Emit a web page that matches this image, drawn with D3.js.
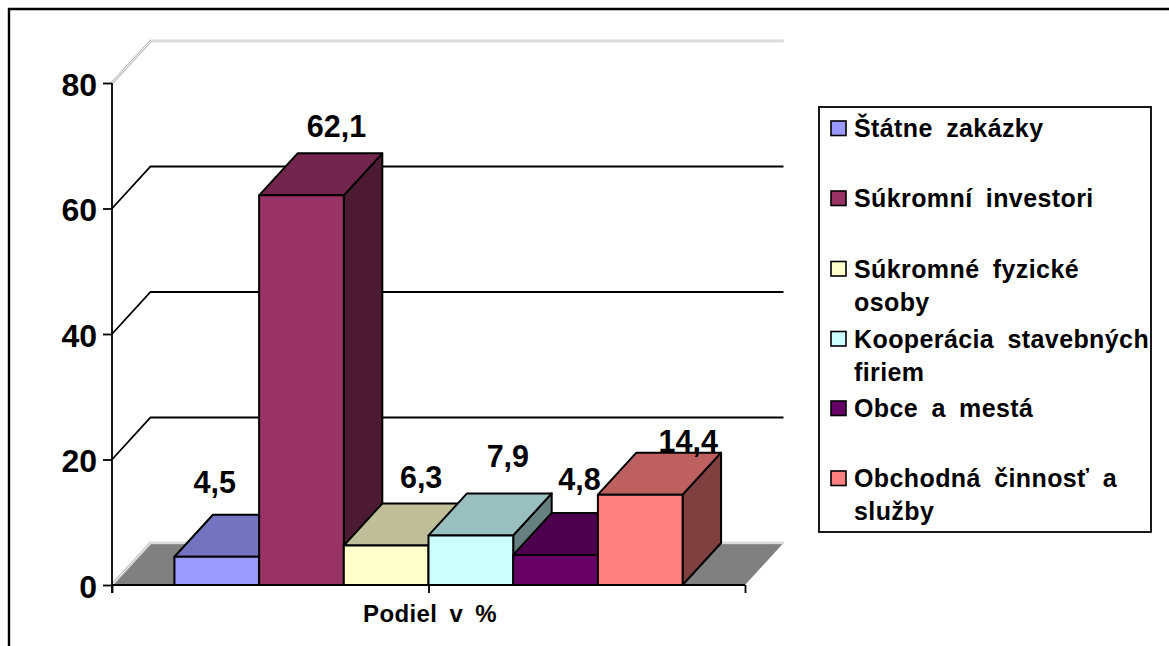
<!DOCTYPE html>
<html lang="sk">
<head>
<meta charset="utf-8">
<script src="https://cdn.jsdelivr.net/npm/d3@7"></script>
<style>
  html, body { margin: 0; padding: 0; background: #fff; }
  svg { display: block; }
  text { font-family: "Liberation Sans", Arial, sans-serif; font-weight: 700; fill: #000; }
</style>
</head>
<body>
<svg id="chart" width="1169" height="646"></svg>
<script>
// Podiel zákazníkov v percentách
const categories = ["Štátne zakázky", "Súkromní investori", "Súkromné fyzické osoby",
                    "Kooperácia stavebných firiem", "Obce a mestá", "Obchodná činnosť a služby"];
const values = [4.5, 62.1, 6.3, 7.9, 4.8, 14.4];
const valueLabels = ["4,5", "62,1", "6,3", "7,9", "4,8", "14,4"];
const frontColors = ["#9999ff", "#993366", "#ffffcc", "#ccffff", "#660066", "#ff8080"];
const topColors = ["#7373bf", "#73264d", "#bfbf99", "#99bfbf", "#4d004d", "#bf6060"];
const sideColors = ["#4d4d80", "#4d1a33", "#808066", "#668080", "#330033", "#804040"];
const yTicks = [0, 20, 40, 60, 80];
const axisTitle = "Podiel v %";
const legendLines = [
  ["Štátne zakázky"],
  ["Súkromní investori"],
  ["Súkromné fyzické", "osoby"],
  ["Kooperácia stavebných", "firiem"],
  ["Obce a mestá"],
  ["Obchodná činnosť a", "služby"]
];

const plot = { left: 112, right: 745, top: 83, bottom: 585, depthX: 38.5, depthY: 42 };
const svg = d3.select("#chart");

const y = d3.scaleLinear().domain([0, 80]).range([plot.bottom, plot.top]);
const x = d3.scaleBand().domain(categories)
  .range([plot.left, plot.right]).paddingInner(0).paddingOuter(0.737);

const poly = pts => pts.map(p => p.join(",")).join(" ");

// Chart area frame: only the top and left edges fall inside the page
svg.append("path").attr("d", "M1169,9H9V646")
  .attr("fill", "none").attr("stroke", "#000").attr("stroke-width", 2.4);

// Floor of the 3D box
const wallLine = base => poly([
  [plot.left, base],
  [plot.left + plot.depthX, base - plot.depthY],
  [plot.right + plot.depthX, base - plot.depthY]]);

svg.append("polygon")
  .attr("points", poly([
    [plot.left, plot.bottom], [plot.right, plot.bottom],
    [plot.right + plot.depthX, plot.bottom - plot.depthY],
    [plot.left + plot.depthX, plot.bottom - plot.depthY]]))
  .attr("fill", "#808080");

// Edges that are drawn as a thin double line: the floor and the 80 gridline
[plot.bottom, y(80)].forEach(base => {
  svg.append("polyline").attr("points", wallLine(base))
    .attr("fill", "none").attr("stroke", "#b8b8b8").attr("stroke-width", 2.6);
  svg.append("polyline").attr("points", wallLine(base))
    .attr("fill", "none").attr("stroke", "#fff").attr("stroke-width", 1);
});

// Gridlines run along the left wall and then the back wall
svg.append("g").selectAll("polyline").data(yTicks.slice(1, 4)).join("polyline")
  .attr("points", d => wallLine(y(d)))
  .attr("fill", "none").attr("stroke", "#000").attr("stroke-width", 1.8);

// Bars, painted left to right so that each one overlaps its left neighbour
const bars = svg.append("g").attr("stroke", "#000").attr("stroke-width", 2)
  .attr("stroke-linejoin", "round")
  .selectAll("g").data(d3.range(values.length)).join("g");
const bw = x.bandwidth();
bars.append("polygon").attr("fill", i => sideColors[i])
  .attr("points", i => {
    const r = x(categories[i]) + bw, t = y(values[i]);
    return poly([[r, plot.bottom], [r, t], [r + plot.depthX, t - plot.depthY],
                 [r + plot.depthX, plot.bottom - plot.depthY]]);
  });
bars.append("polygon").attr("fill", i => topColors[i])
  .attr("points", i => {
    const l = x(categories[i]), t = y(values[i]);
    return poly([[l, t], [l + bw, t], [l + bw + plot.depthX, t - plot.depthY],
                 [l + plot.depthX, t - plot.depthY]]);
  });
bars.append("rect").attr("fill", i => frontColors[i])
  .attr("x", i => x(categories[i])).attr("width", bw)
  .attr("y", i => y(values[i])).attr("height", i => plot.bottom - y(values[i]));

// Value axis
const yAxis = svg.append("g").attr("transform", `translate(${plot.left},0)`)
  .call(d3.axisLeft(y).tickValues(yTicks).tickSize(9).tickPadding(6).tickFormat(d3.format("d")));
yAxis.selectAll("path, line").attr("stroke", "#000").attr("stroke-width", 1.8);
yAxis.select(".domain").attr("d", `M0,${plot.top}V${plot.bottom + 8}`);
yAxis.selectAll("text").attr("font-size", 32).style("font-family", '"Liberation Sans", Arial, sans-serif')
  .style("font-weight", 700).attr("dy", "0.38em");

// Category axis with its three tick marks
const xAxisScale = d3.scaleLinear().domain([0, 2]).range([plot.left, plot.right]);
const xAxis = svg.append("g").attr("transform", `translate(0,${plot.bottom})`)
  .call(d3.axisBottom(xAxisScale).tickValues([0, 1, 2]).tickSize(8).tickFormat(""));
xAxis.selectAll("path, line").attr("stroke", "#000").attr("stroke-width", 1.8);
xAxis.select(".domain").attr("d", `M${plot.left},0H${plot.right}`);

svg.append("text").attr("x", 430).attr("y", 622).attr("text-anchor", "middle")
  .attr("font-size", 24).attr("letter-spacing", 0.4).attr("word-spacing", 5).text(axisTitle);

// Value labels sit above each bar, hand-placed so that they clear the neighbours
const labelShift = [[-2, -22], [35, -16], [35, -15], [37, -26], [24, -23], [48, -1]];
svg.append("g").selectAll("text").data(values).join("text")
  .attr("x", (d, i) => x(categories[i]) + bw / 2 + labelShift[i][0])
  .attr("y", (d, i) => y(d) - plot.depthY + labelShift[i][1])
  .attr("text-anchor", "middle").attr("font-size", 30.5)
  .text((d, i) => valueLabels[i]);

// Legend
const legend = svg.append("g");
legend.append("rect").attr("x", 819).attr("y", 107).attr("width", 332).attr("height", 425)
  .attr("fill", "#fff").attr("stroke", "#000").attr("stroke-width", 1.8);
const rowCentres = [128.5, 198.5, 269, 339, 408.5, 478.5];
const rows = legend.selectAll("g").data(legendLines).join("g")
  .attr("transform", (d, i) => `translate(0,${rowCentres[i]})`);
rows.append("rect").attr("x", 831).attr("y", -7.5).attr("width", 15).attr("height", 14.5)
  .attr("fill", (d, i) => frontColors[i]).attr("stroke", "#000").attr("stroke-width", 1.6);
rows.selectAll("text").data(d => d).join("text")
  .attr("x", 854).attr("y", (d, i) => 8.5 + i * 33)
  .attr("font-size", 25).attr("letter-spacing", 0.4).attr("word-spacing", 6).text(d => d);
</script>
</body>
</html>
